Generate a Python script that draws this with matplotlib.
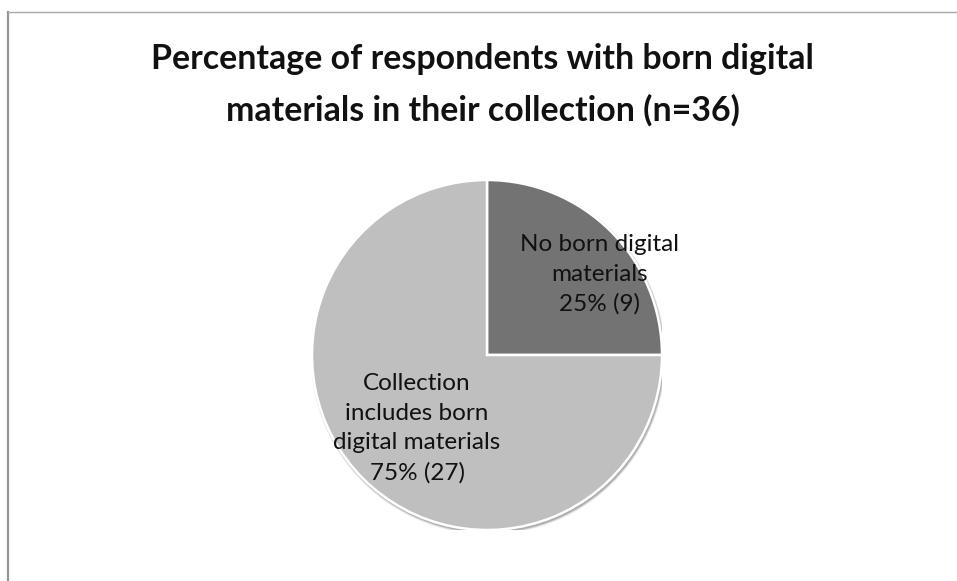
import matplotlib
matplotlib.use("Agg")
import matplotlib.pyplot as plt
from matplotlib.lines import Line2D
from matplotlib.patches import Circle
import numpy as np

# Survey responses
categories = ["No born digital\nmaterials", "Collection\nincludes born\ndigital materials"]
counts = [9, 27]
colors = ["#737373", "#bfbfbf"]
title = "Percentage of respondents with born digital\nmaterials in their collection (n=36)"

plt.rcParams["font.family"] = ["Lato", "DejaVu Sans"]

W, H = 957, 581
fig = plt.figure(figsize=(W / 100, H / 100), dpi=100)
fig.patch.set_facecolor("white")

# Pie axes centred at a fixed pixel location
cx, cy, r = 487, 355, 175
ax = fig.add_axes([(cx - r) / W, (H - cy - r) / H, 2 * r / W, 2 * r / H])

# Soft drop shadow beneath the pie
px = 1.0 / r
for k, a in zip([4.0, 3.0, 2.0, 1.0], [0.06, 0.08, 0.10, 0.12]):
    ax.add_patch(Circle((1.2 * px, -2.0 * px), 1.0 + k * px * 0.6,
                        facecolor="black", edgecolor="none", alpha=a, zorder=0))

total = sum(counts)
labels = [f"{c}\n{round(100 * n / total)}% ({n})" for c, n in zip(categories, counts)]

wedges, texts = ax.pie(
    counts,
    colors=colors,
    startangle=90,
    counterclock=False,
    labels=labels,
    labeldistance=0.6,
    wedgeprops=dict(edgecolor="white", linewidth=1.8, zorder=2),
    textprops=dict(fontsize=17.5, color="#111111", ha="center", va="center",
                   linespacing=1.5, zorder=3),
)
for t in texts:
    t.set_horizontalalignment("center")
    t.set_verticalalignment("center")
texts[0].set_position((0.645, 0.46))
texts[1].set_position((-0.40, -0.42))

ax.set_xlim(-1.0, 1.0)
ax.set_ylim(-1.0, 1.0)
ax.set_aspect("equal")
ax.axis("off")

fig.text(0.5 * (8 + W) / W, 1 - 85 / H, title, ha="center", va="center",
         fontsize=24.4, fontweight="bold", color="#111111", linespacing=1.7)

# Chart frame (left and top edges)
fig.add_artist(Line2D([8 / W, 8 / W], [0, 1 - 12 / H], transform=fig.transFigure,
                      color="#969696", linewidth=1.6))
fig.add_artist(Line2D([8 / W, 1], [1 - 12 / H, 1 - 12 / H], transform=fig.transFigure,
                      color="#a8a8a8", linewidth=1.0))

fig.savefig("out.png", dpi=100, facecolor="white")
